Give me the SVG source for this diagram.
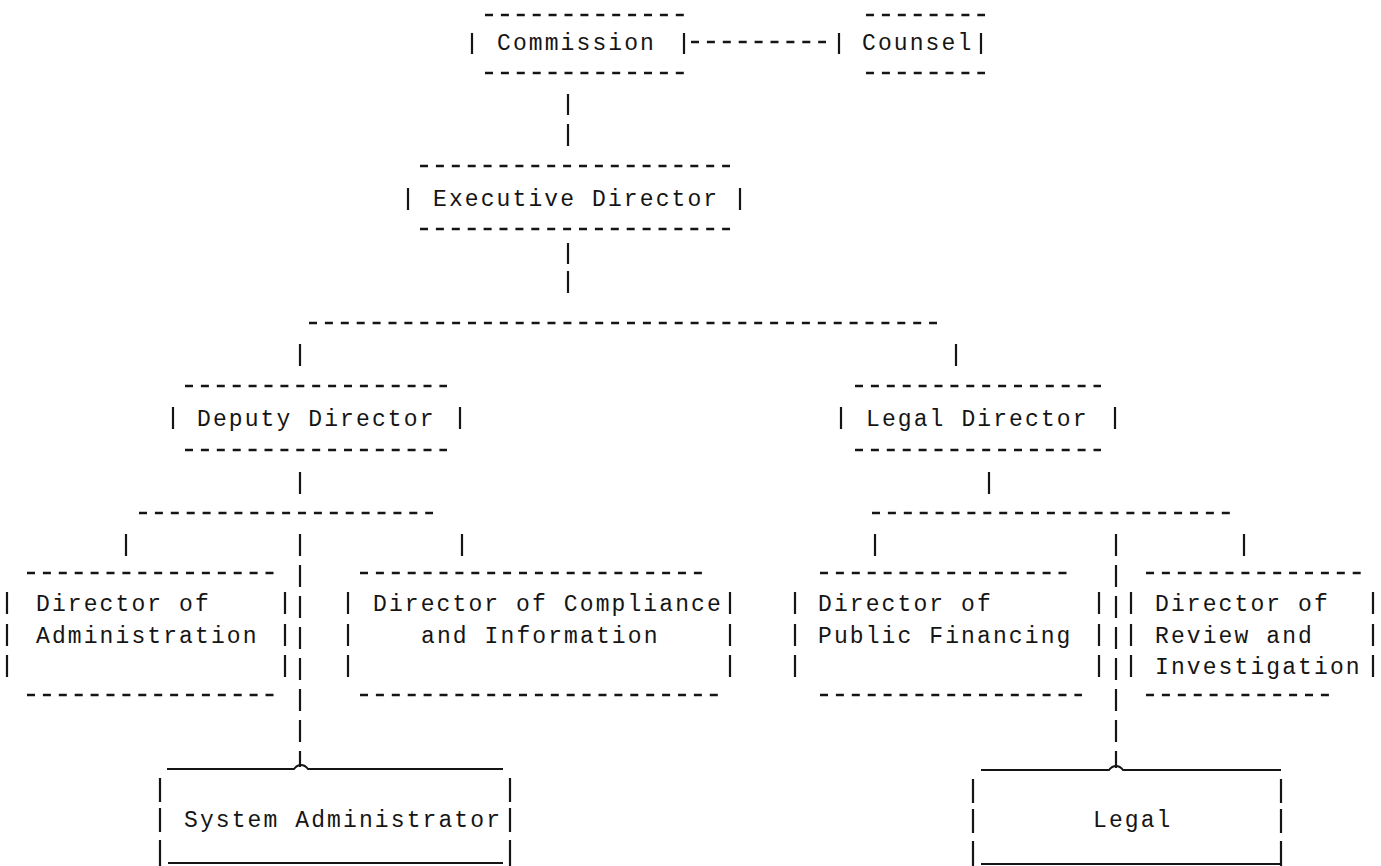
<svg xmlns="http://www.w3.org/2000/svg" width="1381" height="866" viewBox="0 0 1381 866">
<style>
.d{stroke:#151515;stroke-width:2.4;stroke-dasharray:8 7.9;fill:none}
.p{stroke:#151515;stroke-width:2.2;fill:none}
.v{stroke:#151515;stroke-width:2.2;stroke-dasharray:22 9;fill:none}
.s{stroke:#151515;stroke-width:2;fill:none}
.t{font-family:"Liberation Mono","DejaVu Sans Mono",monospace;font-size:23px;letter-spacing:2.1px;fill:#151515}
</style>
<rect width="1381" height="866" fill="#fff"/>

<g id="connectors">
  <line class="d" x1="691" y1="42" x2="826" y2="42"/>
  <line class="p" x1="568" y1="94" x2="568" y2="115"/>
  <line class="p" x1="568" y1="124" x2="568" y2="146"/>
  <line class="p" x1="568" y1="243" x2="568" y2="264"/>
  <line class="p" x1="568" y1="271" x2="568" y2="293"/>
  <line class="d" x1="309" y1="323" x2="937" y2="323"/>
  <line class="p" x1="300" y1="344" x2="300" y2="366"/>
  <line class="p" x1="956" y1="344" x2="956" y2="366"/>
  <line class="p" x1="300" y1="472" x2="300" y2="494"/>
  <line class="p" x1="989" y1="472" x2="989" y2="494"/>
  <line class="d" x1="139" y1="513" x2="433" y2="513"/>
  <line class="d" x1="872" y1="513" x2="1230" y2="513"/>
  <line class="p" x1="126" y1="534" x2="126" y2="556"/>
  <line class="p" x1="462" y1="534" x2="462" y2="556"/>
  <line class="p" x1="875" y1="534" x2="875" y2="556"/>
  <line class="p" x1="1244" y1="534" x2="1244" y2="556"/>
  <line class="v" x1="300" y1="534" x2="300" y2="767"/>
  <line class="v" x1="1116" y1="534" x2="1116" y2="768"/>
</g>

<g id="commission">
  <line class="d" x1="485" y1="15" x2="684" y2="15"/>
  <line class="d" x1="485" y1="73" x2="684" y2="73"/>
  <line class="p" x1="472" y1="33" x2="472" y2="54"/>
  <line class="p" x1="684" y1="33" x2="684" y2="54"/>
  <text class="t" x="497" y="50">Commission</text>
</g>

<g id="counsel">
  <line class="d" x1="866" y1="15" x2="985" y2="15"/>
  <line class="d" x1="866" y1="73" x2="985" y2="73"/>
  <line class="p" x1="839" y1="33" x2="839" y2="54"/>
  <line class="p" x1="981" y1="33" x2="981" y2="54"/>
  <text class="t" x="862" y="50">Counsel</text>
</g>

<g id="executive-director">
  <line class="d" x1="420" y1="166" x2="730" y2="166"/>
  <line class="d" x1="420" y1="229" x2="730" y2="229"/>
  <line class="p" x1="408" y1="188" x2="408" y2="210"/>
  <line class="p" x1="740" y1="188" x2="740" y2="210"/>
  <text class="t" x="433" y="206">Executive Director</text>
</g>

<g id="deputy-director">
  <line class="d" x1="185" y1="386" x2="447" y2="386"/>
  <line class="d" x1="185" y1="450" x2="447" y2="450"/>
  <line class="p" x1="173" y1="407" x2="173" y2="429"/>
  <line class="p" x1="460" y1="407" x2="460" y2="429"/>
  <text class="t" x="197" y="426">Deputy Director</text>
</g>

<g id="legal-director">
  <line class="d" x1="855" y1="386" x2="1101" y2="386"/>
  <line class="d" x1="855" y1="450" x2="1101" y2="450"/>
  <line class="p" x1="841" y1="407" x2="841" y2="429"/>
  <line class="p" x1="1115" y1="407" x2="1115" y2="429"/>
  <text class="t" x="866" y="426">Legal Director</text>
</g>

<g id="director-administration">
  <line class="d" x1="27" y1="573" x2="274" y2="573"/>
  <line class="d" x1="27" y1="695" x2="274" y2="695"/>
  <path class="p" d="M7 592V614M7 624V646M7 655V677M285 592V614M285 624V646M285 655V677"/>
  <text class="t" x="36" y="611">Director of</text>
  <text class="t" x="36" y="643">Administration</text>
</g>

<g id="director-compliance">
  <line class="d" x1="360" y1="573" x2="702" y2="573"/>
  <line class="d" x1="360" y1="695" x2="718" y2="695"/>
  <path class="p" d="M348 592V614M348 624V646M348 655V677M730 592V614M730 624V646M730 655V677"/>
  <text class="t" x="373" y="611">Director of Compliance</text>
  <text class="t" x="421" y="643">and Information</text>
</g>

<g id="director-public-financing">
  <line class="d" x1="820" y1="573" x2="1067" y2="573"/>
  <line class="d" x1="820" y1="695" x2="1082" y2="695"/>
  <path class="p" d="M795 592V614M795 624V646M795 655V677M1099 592V614M1099 624V646M1099 655V677"/>
  <text class="t" x="818" y="611">Director of</text>
  <text class="t" x="818" y="643">Public Financing</text>
</g>

<g id="director-review">
  <line class="d" x1="1146" y1="573" x2="1361" y2="573"/>
  <line class="d" x1="1146" y1="695" x2="1329" y2="695"/>
  <path class="p" d="M1131 592V614M1131 624V646M1131 655V677M1373 592V614M1373 624V646M1373 655V677"/>
  <text class="t" x="1155" y="611">Director of</text>
  <text class="t" x="1155" y="643">Review and</text>
  <text class="t" x="1155" y="674">Investigation</text>
</g>

<g id="system-administrator">
  <path class="s" d="M167 769L294 769Q297 765 301 765Q305 765 308 769L503 769"/>
  <line class="s" x1="168" y1="863" x2="503" y2="863"/>
  <path class="p" d="M160 778V802M160 808V832M160 840V866M510 778V802M510 808V832M510 840V866"/>
  <text class="t" x="184" y="827">System Administrator</text>
</g>

<g id="legal">
  <path class="s" d="M981 770L1109 770Q1112 766 1116 766Q1120 766 1123 770L1281 770"/>
  <line class="s" x1="981" y1="864" x2="1281" y2="864"/>
  <path class="p" d="M973 779V803M973 809V833M973 841V866M1281 779V803M1281 809V833M1281 841V866"/>
  <text class="t" x="1093" y="827">Legal</text>
</g>
</svg>
